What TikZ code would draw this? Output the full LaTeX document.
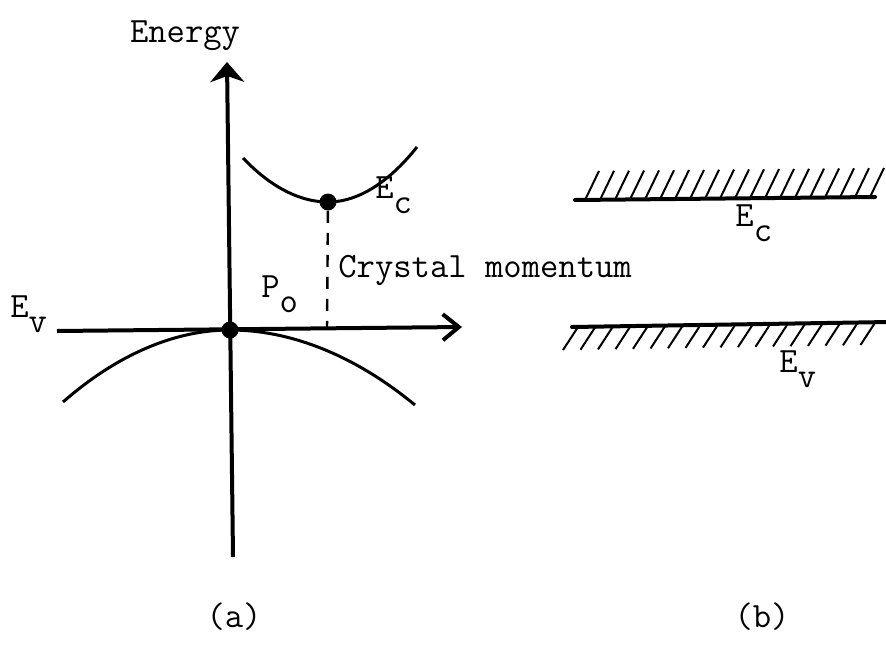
\documentclass[tikz,border=0pt]{standalone}
\usepackage{tikz}
\usetikzlibrary{arrows.meta}
\newcommand{\lowsub}[1]{\raisebox{-7.5pt}{#1}}
\tikzset{
  bandaxis/.style={line width=2pt},
  bandcurve/.style={line width=1.5pt},
  bandlevel/.style={line width=2pt,line cap=round},
  bandhatch/.style={line width=1pt},
  banddot/.style={circle,fill=black,inner sep=0pt,minimum size=8.5pt},
  bandlabel/.style={inner sep=0pt,anchor=base west},
  every picture/.style={font=\fontsize{17.8}{20}\selectfont\ttfamily}
}
\begin{document}
\begin{tikzpicture}[x=0.5pt,y=0.5pt]
  \useasboundingbox (0,0) rectangle (886,-647);
  % (a) E-p diagram
  \coordinate (origin) at (230,-330);
  \coordinate (etop) at (227,-62);
  \coordinate (ebot) at (233,-557);
  \coordinate (kleft) at (57,-331);
  \coordinate (kright) at (462,-327);
  \coordinate (pzero) at (327,-329);
  \draw[bandcurve] (63,-402) parabola bend (origin) (415,-405);
  \draw[bandcurve] (243,-158) parabola bend (328,-202) (417,-147);
  \draw[bandaxis,-{Stealth[length=10pt,width=17pt,inset=3pt]}] (ebot) -- (etop);
  \draw[bandaxis,-{Straight Barb[length=8pt,width=13pt]}] (kleft) -- (kright);
  \node[banddot] (vmax) at (origin) {};
  \node[banddot] (cmin) at (328,-202) {};
  \draw[line width=1.2pt,dash pattern=on 6pt off 5pt] (cmin) -- (pzero);
  \node[bandlabel,anchor=base] (energylbl) at (185,-43) {Energy};
  \node[bandlabel] (eclbl) at (375,-198) {E\lowsub{c}};
  \node[bandlabel] (crystallbl) at (338,-277) {Crystal momentum};
  \node[bandlabel] (p0lbl) at (261,-297) {P\lowsub{o}};
  \node[bandlabel] (evlbl) at (10,-317) {E\lowsub{v}};
  % (b) flat bands
  \draw[bandlevel] (575,-200) -- (875,-197);
  \foreach \i in {0,...,19}
    \draw[bandhatch] ({585+15*\i},{-200+3*\i/19}) -- ++(14,29);
  \draw[bandlevel] (572,-327) -- (890,-322);
  \foreach \i in {0,...,17}
    \draw[bandhatch] ({578+17.5*\i},{-327+5*\i/17}) -- ++(-15,-23);
  \node[bandlabel] (ecband) at (735,-226) {E\lowsub{c}};
  \node[bandlabel] (evband) at (779,-372) {E\lowsub{v}};
  \node[bandlabel,anchor=base] (capa) at (234,-627) {(a)};
  \node[bandlabel,anchor=base] (capb) at (762,-627) {(b)};
\end{tikzpicture}
\end{document}
